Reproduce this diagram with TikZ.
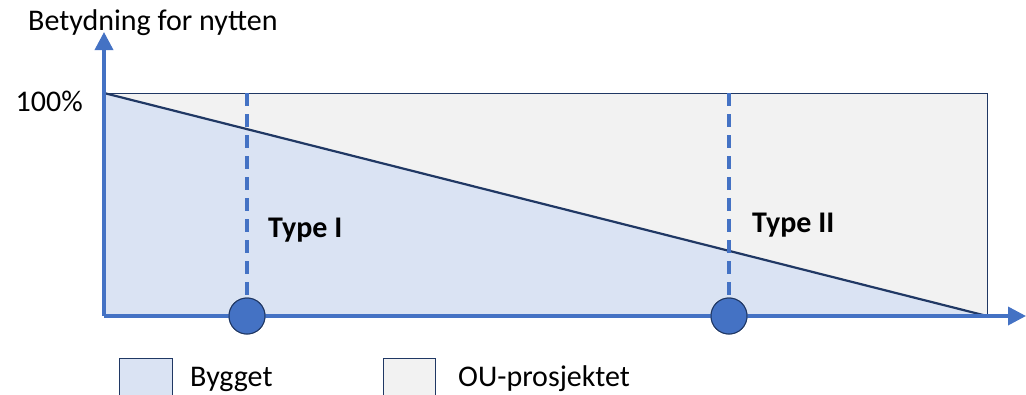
\documentclass[tikz,border=0pt]{standalone}
\usepackage{fontspec}
\setmainfont{Carlito}
\usetikzlibrary{arrows.meta}
\definecolor{axisblue}{HTML}{4472C4}
\definecolor{lightblue}{HTML}{DAE3F3}
\definecolor{lightgray}{HTML}{F2F2F2}
\definecolor{navy}{HTML}{203864}
\tikzset{
  axis/.style={draw=axisblue, line width=3.5pt, -{Triangle[width=18pt,length=18pt]}},
  dashed line/.style={draw=axisblue, line width=3.5pt, dash pattern=on 13pt off 8pt},
  dot/.style={circle, fill=axisblue, draw=navy, line width=1pt, minimum size=36pt, inner sep=0pt},
  lbl/.style={font=\fontsize{30}{36}\selectfont, inner sep=0pt},
  blbl/.style={font=\fontsize{30}{36}\selectfont\bfseries, inner sep=0pt},
  legbox/.style={draw=navy, line width=1pt}
}
\begin{document}
\begin{tikzpicture}[x=1pt,y=-1pt]
\useasboundingbox (0,0) rectangle (1026,394);
% background regions
\fill[lightgray] (104,93) rectangle (987,316);
\fill[lightblue] (104,93) -- (987,316) -- (104,316) -- cycle;
\draw[navy, line width=1pt] (104,93) -- (987,93) -- (987,316);
\coordinate (top) at (104,93);
\coordinate (end) at (987,316);
\draw[navy, line width=2.2pt] (top) -- (end);
% dashed markers
\coordinate (d1) at (247,93);
\coordinate (d2) at (729,93);
\node[dot] (c1) at (247,316) {};
\node[dot] (c2) at (729,316) {};
\draw[dashed line] (d1) -- (c1.north);
\draw[dashed line] (d2) -- (c2.north);
% axes
\coordinate (origin) at (104,316);
\coordinate (ytip) at (104,32);
\coordinate (xtip) at (1026,316);
\draw[axis] (origin) -- (ytip);
\draw[axis] (origin) -- (xtip);
\node[dot] at (c1) {};
\node[dot] at (c2) {};
% labels
\node[lbl, anchor=base west] (ylab) at (28,30) {Betydning for nytten};
\node[lbl, anchor=base east] (p100) at (83,111) {100\%};
\node[blbl, anchor=base west] (t1) at (268,237) {Type I};
\node[blbl, anchor=base west] (t2) at (752,232) {Type II};
% legend
\draw[legbox, fill=lightblue] (119,358) rectangle (172,400);
\node[lbl, anchor=base west] (l1) at (190,386) {Bygget};
\draw[legbox, fill=lightgray] (383,358) rectangle (435,400);
\node[lbl, anchor=base west] (l2) at (458,386) {OU-prosjektet};
\end{tikzpicture}
\end{document}
